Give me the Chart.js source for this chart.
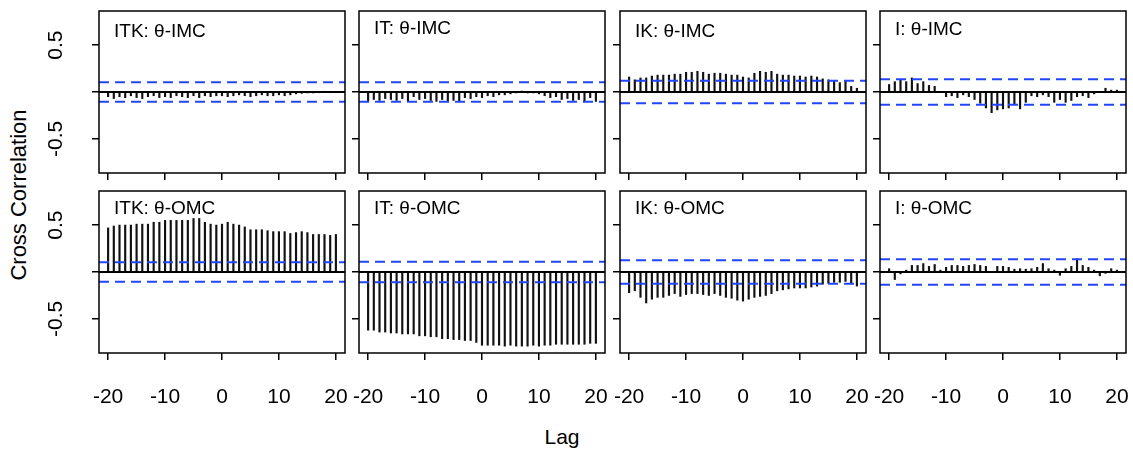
<!DOCTYPE html>
<html>
<head>
<meta charset="utf-8">
<script src="https://cdn.jsdelivr.net/npm/chart.js@4.4.1/dist/chart.umd.min.js"></script>
<style>
  body { margin: 0; background: #fff; width: 1133px; height: 455px; position: relative; overflow: hidden;
         font-family: "Liberation Sans", Arial, Helvetica, sans-serif; }
  canvas { position: absolute; }
  .lbl { position: absolute; color: #000; white-space: nowrap; }
  #ylab { left: 19px; top: 195px; font-size: 22px; transform: translate(-50%, -50%) rotate(-90deg); }
  #xlab { left: 562px; top: 425px; font-size: 21px; transform: translateX(-50%); }
</style>
</head>
<body>
<div class="lbl" id="ylab">Cross Correlation</div>
<div class="lbl" id="xlab">Lag</div>
<script>
// lags shown on every panel
const lags = [-20, -19, -18, -17, -16, -15, -14, -13, -12, -11,
              -10, -9, -8, -7, -6, -5, -4, -3, -2, -1,
              0, 1, 2, 3, 4, 5, 6, 7, 8, 9,
              10, 11, 12, 13, 14, 15, 16, 17, 18, 19, 20];

const panelTitles = ['ITK: θ-IMC', 'IT: θ-IMC', 'IK: θ-IMC', 'I: θ-IMC',
                     'ITK: θ-OMC', 'IT: θ-OMC', 'IK: θ-OMC', 'I: θ-OMC'];

// cross correlation, lag -20 .. 20
const itkImc = [-0.05, -0.07, -0.05, -0.06, -0.04, -0.06, -0.07, -0.05, -0.04, -0.06,
                -0.05, -0.06, -0.04, -0.05, -0.06, -0.04, -0.06, -0.04, -0.05, -0.04,
                -0.04, -0.05, -0.04, -0.03, -0.04, -0.05, -0.04, -0.03, -0.04, -0.04,
                -0.03, -0.04, -0.03, -0.02, -0.015, -0.01, -0.01, -0.005, 0.005, -0.005,
                -0.005];
const itImc = [-0.10, -0.08, -0.09, -0.07, -0.08, -0.09, -0.07, -0.10, -0.05, -0.08,
               -0.07, -0.09, -0.10, -0.08, -0.10, -0.09, -0.10, -0.06, -0.07, -0.05,
               -0.06, -0.04, -0.05, -0.03, -0.03, -0.02, -0.01, 0.01, -0.01, -0.01,
               -0.02, -0.04, -0.06, -0.05, -0.08, -0.07, -0.09, -0.08, -0.10, -0.06,
               -0.10];
const ikImc = [0.16, 0.13, 0.15, 0.15, 0.17, 0.18, 0.18, 0.18, 0.19, 0.19,
               0.21, 0.21, 0.22, 0.21, 0.19, 0.20, 0.20, 0.19, 0.18, 0.18,
               0.16, 0.15, 0.20, 0.22, 0.21, 0.22, 0.19, 0.18, 0.18, 0.17,
               0.17, 0.16, 0.17, 0.16, 0.14, 0.13, 0.12, 0.10, 0.12, 0.06,
               0.04];
const iImc = [0.08, 0.11, 0.13, 0.11, 0.15, 0.09, 0.11, 0.07, 0.06, 0.00,
              -0.05, -0.04, -0.06, -0.03, -0.05, -0.08, -0.12, -0.17, -0.22, -0.19,
              -0.18, -0.17, -0.13, -0.18, -0.11, -0.04, -0.05, -0.03, -0.05, -0.11,
              -0.08, -0.11, -0.09, -0.05, -0.04, -0.06, -0.02, 0.00, 0.04, 0.02,
              0.02];
const itkOmc = [0.47, 0.49, 0.50, 0.50, 0.50, 0.51, 0.51, 0.51, 0.53, 0.53,
                0.55, 0.55, 0.55, 0.55, 0.55, 0.57, 0.57, 0.53, 0.51, 0.50,
                0.51, 0.53, 0.51, 0.50, 0.48, 0.45, 0.45, 0.45, 0.44, 0.43,
                0.43, 0.43, 0.41, 0.42, 0.43, 0.42, 0.40, 0.40, 0.40, 0.39,
                0.40];
const itOmc = [-0.62, -0.62, -0.64, -0.64, -0.65, -0.65, -0.66, -0.66, -0.66, -0.68,
               -0.68, -0.69, -0.69, -0.71, -0.71, -0.72, -0.72, -0.73, -0.73, -0.75,
               -0.78, -0.78, -0.78, -0.78, -0.79, -0.78, -0.79, -0.79, -0.79, -0.78,
               -0.79, -0.78, -0.78, -0.77, -0.77, -0.77, -0.77, -0.77, -0.77, -0.76,
               -0.76];
const ikOmc = [-0.22, -0.20, -0.27, -0.33, -0.29, -0.27, -0.27, -0.25, -0.23, -0.26,
               -0.24, -0.23, -0.23, -0.24, -0.25, -0.23, -0.25, -0.27, -0.28, -0.30,
               -0.31, -0.29, -0.27, -0.26, -0.25, -0.23, -0.20, -0.19, -0.18, -0.17,
               -0.17, -0.17, -0.16, -0.15, -0.13, -0.12, -0.11, -0.11, -0.10, -0.12,
               -0.15];
const iOmc = [0.035, -0.08, -0.02, 0.02, 0.07, 0.07, 0.09, 0.06, 0.08, 0.02,
              0.05, 0.07, 0.07, 0.06, 0.07, 0.08, 0.07, 0.06, 0.00, 0.06,
              0.06, 0.05, 0.03, 0.035, 0.03, 0.035, 0.05, 0.09, 0.035, 0.02,
              -0.035, 0.035, 0.06, 0.14, 0.07, 0.05, 0.02, -0.04, -0.015, 0.035,
              0.02];

const series = [itkImc, itImc, ikImc, iImc, itkOmc, itOmc, ikOmc, iOmc];

// +/- confidence bound (blue dashed lines) of each panel
const ciBounds = [0.105, 0.105, 0.12, 0.135, 0.105, 0.11, 0.125, 0.135];

const xTicks = [-20, -10, 0, 10, 20];
const yTicks = [-0.5, 0, 0.5];
const xRange = [-21.6, 21.6];
const yRange = [-0.863, 0.863];

// layout of the 2 x 4 grid (pixels)
const colLeft = [99, 359, 620, 880];
const rowTop = [11, 191];
const boxW = 246, boxH = 162;
const titleBase = [25.5, 22.5, 25.5, 24, 22.5, 22.5, 22.5, 22.5];
const FONT = '"Liberation Sans", Arial, Helvetica, sans-serif';

const panelDeco = {
    id: 'panelDeco',
    afterDatasetsDraw(chart, args, opts) {
        const ctx = chart.ctx;
        const a = chart.chartArea;
        ctx.save();
        ctx.strokeStyle = '#000';
        ctx.lineWidth = 1.5;
        ctx.strokeRect(a.left, a.top, a.right - a.left, a.bottom - a.top);

        ctx.fillStyle = '#000';
        ctx.textBaseline = 'alphabetic';
        ctx.textAlign = 'left';
        ctx.font = '19px ' + FONT;
        ctx.fillText(opts.title, a.left + 15, a.top + opts.titleBase);

        // rotated y tick labels, R style (the 0 label is dropped)
        if (opts.yLabels) {
            const ys = chart.scales.y;
            ctx.font = '21px ' + FONT;
            ctx.textAlign = 'center';
            ys.ticks.forEach(t => {
                if (t.value === 0) return;
                ctx.save();
                ctx.translate(a.left - 37, ys.getPixelForValue(t.value));
                ctx.rotate(-Math.PI / 2);
                ctx.fillText(String(t.value), 0, 0);
                ctx.restore();
            });
        }
        ctx.restore();
    }
};

function makePanel(i) {
    const col = i % 4, row = Math.floor(i / 4);
    const padL = col === 0 ? colLeft[0] : 12;
    const padB = row === 0 ? 12 : 62;

    const canvas = document.createElement('canvas');
    canvas.width = padL + boxW + 3;
    canvas.height = 5 + boxH + padB;
    canvas.style.left = (colLeft[col] - padL) + 'px';
    canvas.style.top = (rowTop[row] - 5) + 'px';
    document.body.appendChild(canvas);

    const vals = series[i];
    const ci = ciBounds[i];
    const blue = 'rgb(35, 70, 250)';

    new Chart(canvas.getContext('2d'), {
        type: 'bar',
        data: {
            datasets: [
                {
                    type: 'line', data: [{ x: xRange[0], y: ci }, { x: xRange[1], y: ci }],
                    borderColor: blue, borderWidth: 2, borderDash: [10, 6], pointRadius: 0
                },
                {
                    type: 'line', data: [{ x: xRange[0], y: -ci }, { x: xRange[1], y: -ci }],
                    borderColor: blue, borderWidth: 2, borderDash: [10, 6], pointRadius: 0
                },
                {
                    type: 'line', data: [{ x: xRange[0], y: 0 }, { x: xRange[1], y: 0 }],
                    borderColor: '#000', borderWidth: 1.8, pointRadius: 0
                },
                {
                    type: 'bar',
                    data: lags.map((l, k) => ({ x: l, y: vals[k] })),
                    backgroundColor: '#111',
                    borderWidth: 0,
                    barThickness: 1.5
                }
            ]
        },
        options: {
            responsive: false,
            animation: false,
            events: [],
            layout: { padding: { left: 0, top: 5, right: 3, bottom: 0 } },
            plugins: {
                legend: { display: false },
                tooltip: { enabled: false },
                panelDeco: { title: panelTitles[i], titleBase: titleBase[i], yLabels: col === 0 }
            },
            scales: {
                x: {
                    type: 'linear',
                    offset: false,
                    min: xRange[0],
                    max: xRange[1],
                    afterBuildTicks: axis => { axis.ticks = xTicks.map(v => ({ value: v })); },
                    afterFit: axis => { axis.height = padB; axis.paddingLeft = 0; axis.paddingRight = 0; },
                    grid: { offset: false, drawOnChartArea: false, drawTicks: true, tickLength: 7, color: '#000', lineWidth: 1.5 },
                    border: { display: false },
                    ticks: {
                        display: row === 1,
                        color: '#000',
                        padding: 25,
                        maxRotation: 0,
                        font: { family: FONT, size: 21 },
                        callback: v => String(v)
                    }
                },
                y: {
                    min: yRange[0],
                    max: yRange[1],
                    afterBuildTicks: axis => { axis.ticks = yTicks.map(v => ({ value: v })); },
                    afterFit: axis => { axis.width = padL; axis.paddingTop = 0; axis.paddingBottom = 0; },
                    grid: { drawOnChartArea: false, drawTicks: true, tickLength: 7, color: '#000', lineWidth: 1.5 },
                    border: { display: false },
                    ticks: { display: false }
                }
            }
        },
        plugins: [panelDeco]
    });
}

for (let i = 0; i < 8; i++) makePanel(i);
</script>
</body>
</html>
